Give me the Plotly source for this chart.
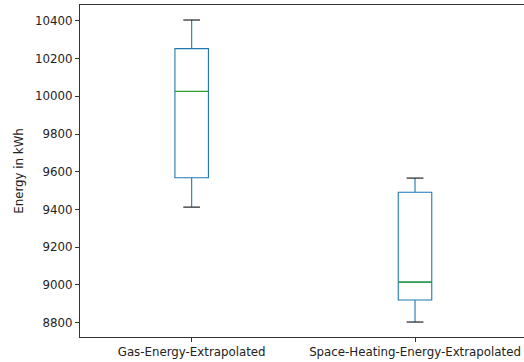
import plotly.graph_objects as go

categories = ["Gas-Energy-Extrapolated", "Space-Heating-Energy-Extrapolated"]
positions = [1, 2]
lower_whisker = [9412, 8802]
q1 = [9568, 8919]
median = [10026, 9014]
q3 = [10253, 9491]
upper_whisker = [10405, 9566]
y_ticks = [8800, 9000, 9200, 9400, 9600, 9800, 10000, 10200, 10400]

BLUE = "#1f77b4"
GREEN = "#2ca02c"
FONT = dict(family="DejaVu Sans", size=11.8, color="#222222")
BOX_W = 0.15
CAP_W = BOX_W / 2


def hsegments(xs, ys, w):
    """Build horizontal segments of width w centred on xs at heights ys."""
    sx, sy = [], []
    for x, y in zip(xs, ys):
        sx += [x - w / 2, x + w / 2, None]
        sy += [y, y, None]
    return sx, sy


fig = go.Figure()
fig.add_trace(go.Box(
    x=positions, q1=q1, median=median, q3=q3,
    lowerfence=lower_whisker, upperfence=upper_whisker,
    width=BOX_W, whiskerwidth=0,
    line=dict(color=BLUE, width=1.1),
    fillcolor="rgba(0,0,0,0)", boxpoints=False, showlegend=False,
    hoverinfo="skip",
))
# median lines
mx, my = hsegments(positions, median, BOX_W)
fig.add_trace(go.Scatter(
    x=mx, y=my, mode="lines", showlegend=False, hoverinfo="skip",
    line=dict(color=GREEN, width=1.3),
))
# caps
cx, cy = hsegments(positions + positions, upper_whisker + lower_whisker, CAP_W)
fig.add_trace(go.Scatter(
    x=cx, y=cy, mode="lines", showlegend=False, hoverinfo="skip",
    line=dict(color="#222222", width=1.2),
))

fig.update_layout(
    width=524, height=362,
    margin=dict(l=80, r=0, t=5, b=25, autoexpand=False),
    paper_bgcolor="white", plot_bgcolor="white",
    font=FONT, hovermode=False,
)
fig.update_xaxes(
    range=[0.5, 2.488], tickvals=positions, ticktext=categories,
    showgrid=False, zeroline=False, showline=True, mirror=True,
    linecolor="#333333", linewidth=1.1,
    ticks="outside", ticklen=4, tickcolor="#333333",
    tickfont=FONT, automargin=False,
)
fig.update_yaxes(
    range=[8722.6, 10484.8], tickvals=y_ticks, ticktext=[str(v) for v in y_ticks],
    showgrid=False, zeroline=False, showline=True,
    linecolor="#333333", linewidth=1.1,
    ticks="outside", ticklen=4, tickcolor="#333333",
    tickfont=FONT, automargin=False,
    title=dict(text="Energy in kWh", standoff=8, font=FONT),
)
fig.write_html("out.html", config={"displayModeBar": False},
               post_script="document.body.style.margin='0';")
